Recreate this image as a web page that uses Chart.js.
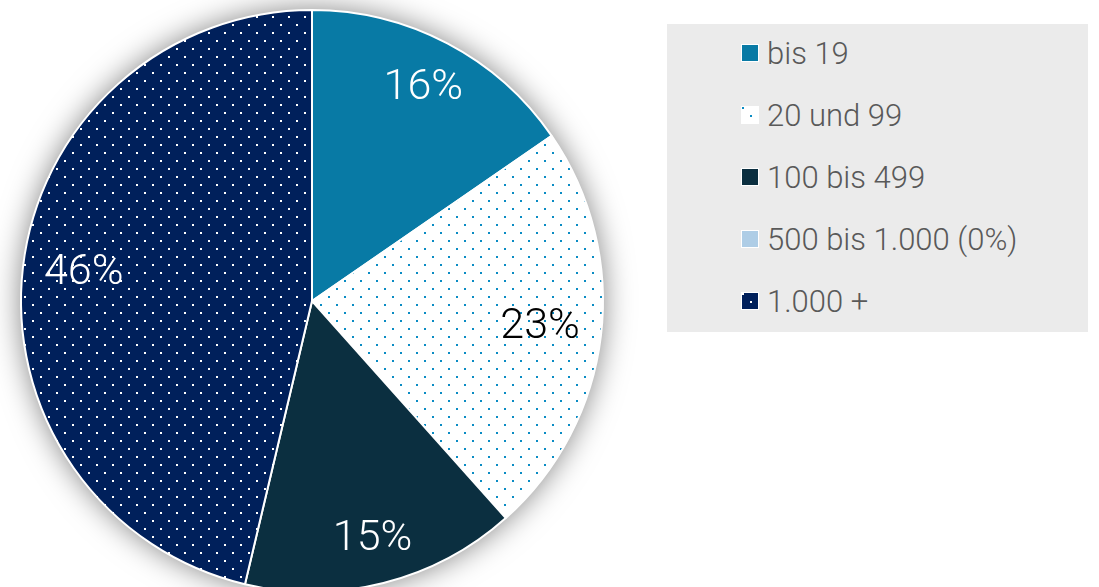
<!DOCTYPE html>
<html>
<head>
<meta charset="utf-8">
<script src="https://cdn.jsdelivr.net/npm/chart.js@4.4.0/dist/chart.umd.min.js"></script>
<style>
  body { margin: 0; width: 1099px; height: 587px; overflow: hidden; background: #fff; }
  #wrap { position: absolute; left: 0; top: 0; width: 660px; height: 620px; }
  #legend { position: absolute; left: 667px; top: 24px; width: 421px; height: 308px; background: #ebebeb; }
  .item { position: absolute; left: 74px; height: 36px; display: flex; align-items: center;
          font-family: Roboto, sans-serif; font-weight: 300; font-size: 31px; color: #595959; white-space: nowrap; }
  .sw { width: 16px; height: 16px; border: 1px solid #fff; margin-right: 8px; box-sizing: content-box; }
</style>
</head>
<body>
<div id="wrap"><canvas id="chart"></canvas></div>
<div id="legend"></div>
<script>
var labels = ['bis 19', '20 und 99', '100 bis 499', '500 bis 1.000 (0%)', '1.000 +'];
var values = [15.4, 23.0, 15.3, 0, 46.3];
var valueText = ['16%', '23%', '15%', '', '46%'];

var solid1 = '#087aa5';
var solid3 = '#0b2f40';
var solid4 = '#aecde6';

// dotted fills
function dots(bg, fg) {
  var c = document.createElement('canvas');
  c.width = 16; c.height = 16;
  var x = c.getContext('2d');
  x.fillStyle = bg;
  x.fillRect(0, 0, 16, 16);
  x.fillStyle = fg;
  x.fillRect(0, 0, 2, 2);
  x.fillRect(8, 8, 2, 2);
  return c;
}
var tile2 = dots('#ffffff', '#0a8cc4');
var tile5 = dots('#00205b', '#ffffff');
var ctx0 = document.getElementById('chart').getContext('2d');
var pat2 = ctx0.createPattern(tile2, 'repeat');
var pat5 = ctx0.createPattern(tile5, 'repeat');

var fills = [solid1, pat2, solid3, solid4, pat5];
var textColors = ['#ffffff', '#000000', '#ffffff', '#ffffff', '#ffffff'];

var shadowPlugin = {
  id: 'shadow',
  beforeDatasetsDraw: function (chart) {
    var arc = chart.getDatasetMeta(0).data[0];
    var c = chart.ctx;
    c.save();
    c.shadowColor = 'rgba(0,0,0,0.5)';
    c.shadowBlur = 30;
    c.fillStyle = '#fff';
    c.beginPath();
    c.arc(arc.x, arc.y, arc.outerRadius, 0, Math.PI * 2);
    c.fill();
    c.restore();
  }
};

var labelPlugin = {
  id: 'sliceLabels',
  afterDatasetsDraw: function (chart) {
    var c = chart.ctx;
    c.save();
    c.font = '300 43px Roboto, sans-serif';
    c.textAlign = 'center';
    c.textBaseline = 'alphabetic';
    chart.getDatasetMeta(0).data.forEach(function (arc, i) {
      if (!valueText[i]) return;
      var mid = (arc.startAngle + arc.endAngle) / 2;
      var m = c.measureText(valueText[i]);
      var hw = m.width / 2;
      var hh = 15;
      var r = arc.outerRadius - 20 - Math.abs(Math.cos(mid)) * hw - Math.abs(Math.sin(mid)) * hh;
      var px = arc.x + Math.cos(mid) * r;
      var py = arc.y + Math.sin(mid) * r;
      c.fillStyle = textColors[i];
      c.fillText(valueText[i], px, py + 10);
    });
    c.restore();
  }
};

new Chart('chart', {
  type: 'pie',
  data: {
    labels: labels,
    datasets: [{
      data: values,
      backgroundColor: fills,
      borderColor: '#ffffff',
      borderWidth: 2
    }]
  },
  options: {
    responsive: true,
    maintainAspectRatio: false,
    animation: false,
    layout: { padding: { left: 20, top: 9, right: 56, bottom: 27 } },
    plugins: {
      legend: { display: false },
      tooltip: { enabled: false }
    }
  },
  plugins: [shadowPlugin, labelPlugin]
});

// legend
var leg = document.getElementById('legend');
var swatchBg = [solid1, 'url(' + tile2.toDataURL() + ')', solid3, solid4, 'url(' + tile5.toDataURL() + ')'];
labels.forEach(function (name, i) {
  var d = document.createElement('div');
  d.className = 'item';
  d.style.top = (11 + i * 62) + 'px';
  var s = document.createElement('span');
  s.className = 'sw';
  s.style.background = swatchBg[i];
  d.appendChild(s);
  d.appendChild(document.createTextNode(name));
  leg.appendChild(d);
});
</script>
</body>
</html>
